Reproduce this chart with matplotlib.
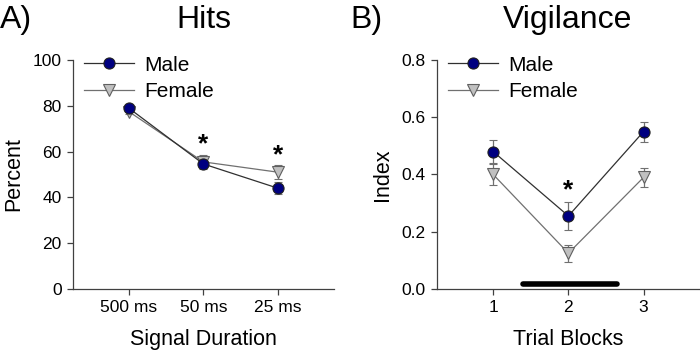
import matplotlib.pyplot as plt
from matplotlib.lines import Line2D

plt.rcParams['font.family'] = ['Liberation Sans', 'DejaVu Sans']

# Painel A - Hits
duracoes = ["500 ms", "50 ms", "25 ms"]
hits_male = [79, 54.6, 44]
hits_male_err = [1.2, 1.5, 2.5]
hits_female = [77.5, 55.5, 51]
hits_female_err = [1.2, 3.0, 3.0]
hits_asteriscos = [(2, 63), (3, 58.5)]

# Painel B - Vigilance
blocos = ["1", "2", "3"]
vig_male = [0.48, 0.255, 0.55]
vig_male_err = [0.04, 0.05, 0.035]
vig_female = [0.40, 0.125, 0.39]
vig_female_err = [0.035, 0.03, 0.033]
vig_asteriscos = [(2, 0.345)]
barra_x = [1.4, 2.65]
barra_y = 0.018

fig = plt.figure(figsize=(7, 3.55), dpi=100)
axA = fig.add_axes([0.104, 0.186, 0.373, 0.645])
axB = fig.add_axes([0.624, 0.186, 0.376, 0.645])

estilo_male = dict(color='#303030', lw=0.9, marker='o', ms=8, mfc='#000080',
                   mec='#202020', mew=0.8)
estilo_female = dict(color='#707070', lw=0.9, marker='v', ms=8, mfc='#c0c0c0',
                     mec='#606060', mew=0.8)

def desenha(ax, male, male_err, female, female_err):
    x = [1, 2, 3]
    ax.errorbar(x, female, yerr=female_err, ecolor='#707070', elinewidth=0.9,
                capsize=3, capthick=0.9, zorder=3, **estilo_female)
    ax.errorbar(x, male, yerr=male_err, ecolor='#707070', elinewidth=0.9,
                capsize=3, capthick=0.9, zorder=4, **estilo_male)
    ax.set_xlim(0.25, 3.75)
    ax.set_xticks(x)
    for s in ['top', 'right']:
        ax.spines[s].set_visible(False)
    for s in ['left', 'bottom']:
        ax.spines[s].set_color('#404040')
        ax.spines[s].set_linewidth(0.9)
    ax.tick_params(direction='out', length=4, width=0.9, color='#404040',
                   labelsize=12.5, pad=4)
    handles = [Line2D([], [], **estilo_male), Line2D([], [], **estilo_female)]
    ax.legend(handles, ['Male', 'Female'], loc='upper left',
              bbox_to_anchor=(0.01, 1.055), frameon=False, fontsize=15,
              handlelength=2.4, handletextpad=0.5, labelspacing=0.35,
              borderaxespad=0)

desenha(axA, hits_male, hits_male_err, hits_female, hits_female_err)
axA.set_ylim(0, 100)
axA.set_yticks([0, 20, 40, 60, 80, 100])
axA.set_xticklabels(duracoes)
axA.set_xlabel("Signal Duration", fontsize=15.5, labelpad=10)
axA.set_ylabel("Percent", fontsize=15.5, labelpad=6)
for xa, ya in hits_asteriscos:
    axA.text(xa, ya, "*", ha='center', va='center', fontsize=19, fontweight='bold')

desenha(axB, vig_male, vig_male_err, vig_female, vig_female_err)
axB.set_ylim(0, 0.8)
axB.set_yticks([0.0, 0.2, 0.4, 0.6, 0.8])
axB.set_yticklabels(["0.0", "0.2", "0.4", "0.6", "0.8"])
axB.set_xticklabels(blocos)
axB.set_xlabel("Trial Blocks", fontsize=15.5, labelpad=10)
axB.set_ylabel("Index", fontsize=15.5, labelpad=6)
for xa, ya in vig_asteriscos:
    axB.text(xa, ya, "*", ha='center', va='center', fontsize=19, fontweight='bold')
axB.plot(barra_x, [barra_y, barra_y], color='black', lw=4, solid_capstyle='round',
         clip_on=False, zorder=5)

# Titulos dos paineis
fig.text(0.0, 0.945, "A)", fontsize=23, va='center', ha='left')
fig.text(0.291, 0.945, "Hits", fontsize=23, va='center', ha='center')
fig.text(0.50, 0.945, "B)", fontsize=23, va='center', ha='left')
fig.text(0.811, 0.945, "Vigilance", fontsize=23, va='center', ha='center')

fig.savefig("out.png", dpi=100)
